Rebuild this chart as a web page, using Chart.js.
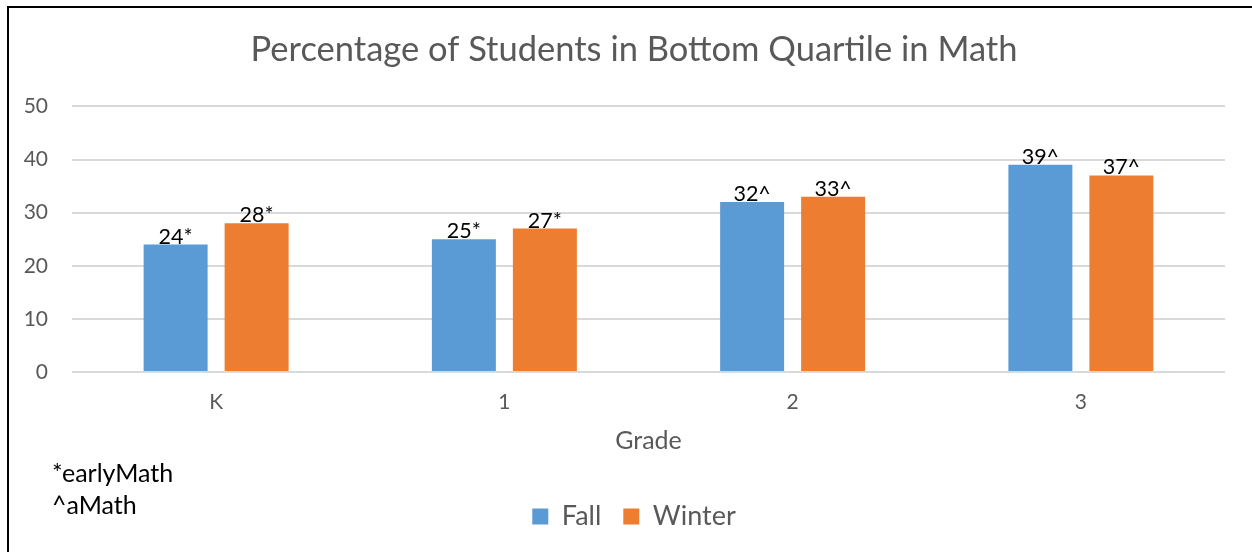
<!DOCTYPE html>
<html>
<head>
<meta charset="utf-8">
<script src="https://cdn.jsdelivr.net/npm/chart.js@4.4.1/dist/chart.umd.min.js"></script>
<style>
  html, body { margin: 0; padding: 0; background: #ffffff; }
  #wrap { position: relative; width: 1252px; height: 552px; }
  #frame { position: absolute; left: 7px; top: 6px; width: 1300px; height: 600px;
           border-left: 2px solid #000; border-top: 2px solid #000; pointer-events: none; }
  canvas { position: absolute; left: 0; top: 0; }
</style>
</head>
<body>
<div id="wrap">
  <canvas id="c" width="1252" height="552"></canvas>
  <div id="frame"></div>
</div>
<script>
const titleText = "Percentage of Students in Bottom Quartile in Math";
const categories = ["K", "1", "2", "3"];
const fallValues = [24, 25, 32, 39];
const winterValues = [28, 27, 33, 37];
const labelSuffixes = ["*", "*", "^", "^"];
const yTicks = [0, 10, 20, 30, 40, 50];
const xAxisTitle = "Grade";
const footnotes = ["*earlyMath", "^aMath"];

const FONT = "Lato, 'Open Sans', sans-serif";
const GRAY = "#595959";

const dataLabels = {
  id: "dataLabels",
  afterDatasetsDraw(chart) {
    const ctx = chart.ctx;
    ctx.save();
    ctx.font = "21.5px " + FONT;
    ctx.fillStyle = "#000000";
    ctx.textAlign = "center";
    ctx.textBaseline = "alphabetic";
    chart.data.datasets.forEach((ds, di) => {
      const meta = chart.getDatasetMeta(di);
      meta.data.forEach((bar, i) => {
        ctx.fillText(ds.data[i] + labelSuffixes[i], bar.x, bar.y - 1);
      });
    });
    ctx.restore();
  }
};

const footnotePlugin = {
  id: "footnotes",
  afterDraw(chart) {
    const ctx = chart.ctx;
    ctx.save();
    ctx.font = "25px " + FONT;
    ctx.fillStyle = "#000000";
    ctx.textAlign = "left";
    ctx.textBaseline = "alphabetic";
    ctx.fillText(footnotes[0], 52, 482);
    ctx.fillText(footnotes[1], 52, 514);
    ctx.restore();
  }
};

new Chart(document.getElementById("c"), {
  type: "bar",
  data: {
    labels: categories,
    datasets: [
      { label: "Fall", data: fallValues, backgroundColor: "#5B9BD5",
        categoryPercentage: 0.562, barPercentage: 0.79 },
      { label: "Winter", data: winterValues, backgroundColor: "#ED7D31",
        categoryPercentage: 0.562, barPercentage: 0.79 }
    ]
  },
  options: {
    responsive: false,
    animation: false,
    devicePixelRatio: 1,
    layout: { padding: { left: 16, right: 0, top: 0, bottom: 12 } },
    plugins: {
      title: {
        display: true, text: titleText, color: GRAY,
        font: { family: FONT, size: 34.5, weight: "normal" },
        padding: { top: 29, bottom: 36 }
      },
      legend: {
        display: true, position: "bottom",
        labels: {
          color: GRAY, font: { family: FONT, size: 27 },
          boxWidth: 16, boxHeight: 16, padding: 22
        }
      },
      tooltip: { enabled: false }
    },
    scales: {
      x: {
        grid: { display: false, drawTicks: false },
        border: { display: false },
        ticks: { color: GRAY, font: { family: FONT, size: 21 }, padding: 18 },
        title: { display: true, text: xAxisTitle, color: GRAY,
                 font: { family: FONT, size: 25 }, padding: { top: 4, bottom: 25 } },
        afterFit(axis) { axis.height = 109; }
      },
      y: {
        min: 0, max: 50,
        afterBuildTicks(axis) { axis.ticks = yTicks.map(v => ({ value: v })); },
        grid: { color: "#D9D9D9", lineWidth: 2, drawTicks: false },
        border: { display: false },
        ticks: { color: GRAY, font: { family: FONT, size: 21 }, padding: 24 },
        afterFit(axis) { axis.width = 56; }
      },
      yRight: {
        position: "right",
        grid: { display: false, drawTicks: false },
        border: { display: false },
        ticks: { display: false },
        afterFit(axis) { axis.width = 27; }
      }
    }
  },
  plugins: [dataLabels, footnotePlugin]
});
</script>
</body>
</html>
